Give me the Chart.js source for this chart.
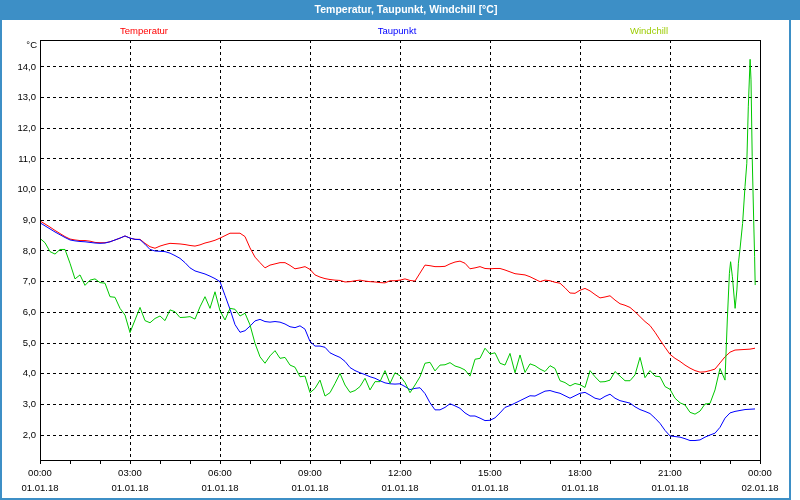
<!DOCTYPE html>
<html>
<head>
<meta charset="utf-8">
<script src="https://cdn.jsdelivr.net/npm/chart.js@4"></script>
<style>
  html, body { margin: 0; padding: 0; background: #fff; }
  #wrap { width: 800px; height: 500px; position: relative; }
</style>
</head>
<body>
<div id="wrap"><canvas id="chart" width="800" height="500"></canvas></div>
<script>
// values every 10 minutes, 00:00 .. 23:50
const temperature = [
  8.98, 8.88, 8.78, 8.67, 8.57, 8.47, 8.39, 8.36, 8.34, 8.34, 8.32, 8.28,
  8.27, 8.27, 8.30, 8.36, 8.42, 8.49, 8.42, 8.38, 8.38, 8.25, 8.14, 8.09,
  8.16, 8.21, 8.25, 8.24, 8.23, 8.21, 8.18, 8.16, 8.20, 8.26, 8.30, 8.35,
  8.42, 8.50, 8.58, 8.58, 8.58, 8.47, 8.10, 7.80, 7.62, 7.45, 7.54, 7.58,
  7.62, 7.62, 7.53, 7.42, 7.45, 7.49, 7.40, 7.22, 7.15, 7.10, 7.07, 7.05,
  7.04, 6.99, 7.00, 7.03, 7.05, 7.02, 7.00, 6.99, 6.97, 6.96, 7.03, 7.03,
  7.05, 7.09, 7.04, 7.02, 7.28, 7.54, 7.52, 7.49, 7.49, 7.50, 7.58, 7.64,
  7.67, 7.60, 7.42, 7.45, 7.49, 7.43, 7.42, 7.43, 7.43, 7.38, 7.32, 7.26,
  7.24, 7.22, 7.16, 7.08, 7.00, 7.05, 7.03, 6.98, 6.95, 6.80, 6.63, 6.62,
  6.72, 6.78, 6.70, 6.58, 6.47, 6.50, 6.54, 6.40, 6.28, 6.23, 6.16, 6.02,
  5.86, 5.70, 5.57, 5.35, 5.10, 4.86, 4.63, 4.50, 4.40, 4.28, 4.18, 4.10,
  4.05, 4.06, 4.10, 4.15, 4.35, 4.55, 4.70, 4.77, 4.78, 4.79, 4.80, 4.83
];
const dewPoint = [
  8.92, 8.82, 8.72, 8.62, 8.53, 8.44, 8.36, 8.33, 8.31, 8.30, 8.28, 8.26,
  8.25, 8.26, 8.30, 8.36, 8.42, 8.49, 8.42, 8.38, 8.37, 8.22, 8.05, 8.00,
  7.99, 7.98, 7.93, 7.85, 7.76, 7.62, 7.45, 7.35, 7.30, 7.25, 7.18, 7.10,
  7.00, 6.55, 6.10, 5.60, 5.35, 5.40, 5.55, 5.72, 5.77, 5.70, 5.68, 5.70,
  5.68, 5.62, 5.53, 5.50, 5.56, 5.45, 5.05, 4.90, 4.90, 4.86, 4.68, 4.60,
  4.53, 4.40, 4.20, 4.10, 4.03, 3.97, 3.90, 3.85, 3.77, 3.70, 3.67, 3.66,
  3.67, 3.58, 3.48, 3.52, 3.54, 3.35, 3.05, 2.82, 2.82, 2.90, 3.02, 2.95,
  2.87, 2.72, 2.62, 2.62, 2.55, 2.47, 2.48, 2.56, 2.72, 2.90, 2.96, 3.04,
  3.12, 3.20, 3.28, 3.27, 3.35, 3.43, 3.45, 3.40, 3.36, 3.28, 3.20, 3.28,
  3.36, 3.39, 3.30, 3.20, 3.16, 3.26, 3.33, 3.20, 3.12, 3.08, 3.04, 2.92,
  2.83, 2.77, 2.70, 2.55, 2.38, 2.15, 1.97, 1.95, 1.93, 1.88, 1.82, 1.82,
  1.84, 1.93, 2.00, 2.06, 2.25, 2.55, 2.72, 2.77, 2.80, 2.83, 2.84, 2.85
];
// windchill every 10 minutes up to 22:50, then denser readings
const windchill = [
  8.41, 8.27, 7.98, 7.90, 8.05, 8.05, 7.60, 7.09, 7.22, 6.88, 7.05, 7.09,
  6.97, 6.95, 6.51, 6.49, 6.13, 5.91, 5.34, 5.75, 6.16, 5.73, 5.66, 5.80,
  5.88, 5.73, 6.08, 6.02, 5.83, 5.84, 5.86, 5.78, 6.18, 6.51, 6.13, 6.67,
  6.05, 5.75, 6.13, 6.10, 5.88, 5.97, 5.59, 4.99, 4.55, 4.34, 4.58, 4.75,
  4.50, 4.53, 4.28, 4.21, 3.90, 3.92, 3.38, 3.52, 3.79, 3.27, 3.38, 3.68,
  4.01, 3.63, 3.39, 3.45, 3.58, 3.85, 3.47, 3.74, 3.74, 4.10, 3.68, 4.03,
  3.93, 3.71, 3.38, 3.63, 3.90, 4.34, 4.37, 4.09, 4.28, 4.29, 4.36, 4.25,
  4.20, 4.12, 3.92, 4.47, 4.50, 4.83, 4.64, 4.68, 4.34, 4.28, 4.66, 4.03,
  4.61, 4.04, 4.32, 4.26, 4.15, 4.07, 4.26, 4.17, 3.77, 3.71, 3.60, 3.68,
  3.64, 3.55, 4.10, 3.90, 3.73, 3.74, 3.79, 4.07, 3.92, 3.77, 3.77, 3.96,
  4.53, 3.87, 4.10, 3.92, 3.90, 3.58, 3.49, 3.20, 3.05, 2.98, 2.74, 2.68,
  2.78, 3.01, 3.03, 3.47, 4.17, 3.79
];
const windchillEndHours = [22.91, 22.98, 23.02, 23.08, 23.17, 23.23, 23.28, 23.33, 23.42, 23.50, 23.56, 23.61, 23.67, 23.70, 23.74, 23.79, 23.82, 23.84];
const windchillEnd = [5.75, 7.27, 7.65, 7.16, 6.13, 6.73, 7.60, 8.03, 8.90, 10.10, 10.86, 12.70, 14.25, 13.58, 11.08, 9.00, 7.82, 6.89];

const seriesNames = ['Temperatur', 'Taupunkt', 'Windchill'];
const timeLabels = ['00:00', '03:00', '06:00', '09:00', '12:00', '15:00', '18:00', '21:00', '00:00'];
const dateLabels = ['01.01.18', '01.01.18', '01.01.18', '01.01.18', '01.01.18', '01.01.18', '01.01.18', '01.01.18', '02.01.18'];
const yTicks = [2, 3, 4, 5, 6, 7, 8, 9, 10, 11, 12, 13, 14];

const hours = temperature.map((_, i) => i / 6);
const toPoints = (xs, ys) => ys.map((y, i) => ({ x: xs[i], y }));

const FONT = '"Liberation Sans", Arial, sans-serif';
const BLUE_FRAME = '#3d8fc6';

const framePlugin = {
  id: 'frame',
  beforeDraw(chart) {
    const ctx = chart.ctx;
    ctx.save();
    ctx.fillStyle = '#fff';
    ctx.fillRect(0, 0, 800, 500);
    ctx.fillStyle = BLUE_FRAME;
    ctx.fillRect(0, 0, 800, 20);
    ctx.fillRect(0, 0, 2, 500);
    ctx.fillRect(789, 0, 2, 500);
    ctx.fillRect(0, 498, 791, 2);
    ctx.restore();
  },
  afterDraw(chart) {
    const ctx = chart.ctx;
    const a = chart.chartArea;
    ctx.save();
    ctx.strokeStyle = '#000';
    ctx.lineWidth = 1;
    ctx.strokeRect(Math.round(a.left) + 0.5, Math.round(a.top) + 0.5, Math.round(a.right - a.left), Math.round(a.bottom - a.top));

    ctx.fillStyle = '#fff';
    ctx.font = 'bold 10.5px ' + FONT;
    ctx.textAlign = 'center';
    ctx.textBaseline = 'middle';
    ctx.fillText('Temperatur, Taupunkt, Windchill [°C]', 406, 10);

    ctx.font = '9.5px ' + FONT;
    const legendX = [144, 397, 649];
    const legendColors = ['#ff0000', '#0000ff', '#9ccc00'];
    seriesNames.forEach((n, i) => {
      ctx.fillStyle = legendColors[i];
      ctx.fillText(n, legendX[i], 31);
    });

    ctx.fillStyle = '#000';
    ctx.textAlign = 'right';
    ctx.fillText('°C', 37, 45);
    ctx.restore();
  }
};

new Chart(document.getElementById('chart'), {
  type: 'line',
  data: {
    datasets: [
      { label: seriesNames[0], data: toPoints(hours, temperature), borderColor: '#ff0000', order: 3 },
      { label: seriesNames[1], data: toPoints(hours, dewPoint), borderColor: '#0000ff', order: 2 },
      {
        label: seriesNames[2],
        data: toPoints(hours, windchill).concat(toPoints(windchillEndHours, windchillEnd)),
        borderColor: '#00c800',
        order: 1
      }
    ]
  },
  options: {
    responsive: false,
    animation: false,
    events: [],
    layout: { padding: { top: 40, right: 40, left: 0, bottom: 0 } },
    elements: {
      point: { radius: 0 },
      line: { borderWidth: 1, tension: 0, fill: false }
    },
    plugins: { legend: { display: false }, title: { display: false }, tooltip: { enabled: false } },
    scales: {
      x: {
        type: 'linear',
        min: 0,
        max: 24,
        afterFit(scale) { scale.height = 40; },
        ticks: {
          stepSize: 1,
          autoSkip: false,
          maxRotation: 0,
          color: '#000',
          padding: 2,
          font: { family: FONT, size: 9.5, lineHeight: '15px' },
          callback(v) {
            if (v % 3 !== 0) return '';
            const i = v / 3;
            return [timeLabels[i], dateLabels[i]];
          }
        },
        grid: {
          color: c => (c.tick && c.tick.value % 3 === 0) ? '#000' : 'rgba(0,0,0,0)',
          tickColor: '#000',
          tickLength: 4,
          lineWidth: 1
        },
        border: { color: '#000', dash: [3, 3] }
      },
      y: {
        type: 'linear',
        min: 1.185,
        max: 14.88,
        afterFit(scale) { scale.width = 40; },
        afterBuildTicks(scale) { scale.ticks = yTicks.map(v => ({ value: v })); },
        ticks: {
          color: '#000',
          padding: 4,
          font: { family: FONT, size: 9.5 },
          callback: v => v.toFixed(1).replace('.', ',')
        },
        grid: { color: '#000', drawTicks: false, lineWidth: 1 },
        border: { color: '#000', dash: [3, 3] }
      }
    }
  },
  plugins: [framePlugin]
});
</script>
</body>
</html>
